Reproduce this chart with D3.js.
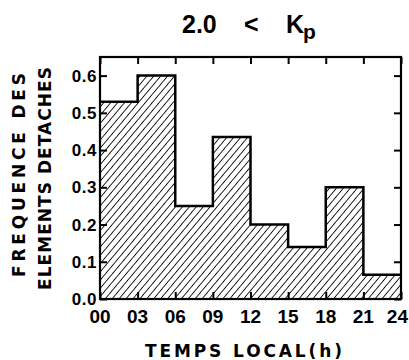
<!DOCTYPE html>
<html>
<head>
<meta charset="utf-8">
<script src="https://cdn.jsdelivr.net/npm/d3@7"></script>
<style>
  body { margin: 0; background: #fff; }
  svg { display: block; }
  text { font-family: "Liberation Sans", Arial, sans-serif; font-weight: bold; fill: #000; }
  text.ttl { font-family: "DejaVu Sans", sans-serif; }
</style>
</head>
<body>
<svg width="409" height="360"></svg>
<script>
// histogram bins (local time, hours) and detached-element frequency
var binStart = [0, 3, 6, 9, 12, 15, 18, 21];
var freq = [0.53, 0.60, 0.25, 0.435, 0.20, 0.14, 0.30, 0.065];
var xTicks = [0, 3, 6, 9, 12, 15, 18, 21, 24];
var xTickLabels = ["00", "03", "06", "09", "12", "15", "18", "21", "24"];
var yTicks = [0, 0.1, 0.2, 0.3, 0.4, 0.5, 0.6];
var yTickLabels = ["0.0", "0.1", "0.2", "0.3", "0.4", "0.5", "0.6"];

var svg = d3.select("svg"),
  margin = { top: 57, right: 8, bottom: 61, left: 100 },
  width = +svg.attr("width") - margin.left - margin.right,
  height = +svg.attr("height") - margin.top - margin.bottom;

var x = d3.scaleLinear().domain([0, 24]).range([0, width]),
  y = d3.scaleLinear().domain([0, 0.65]).range([height, 0]);

// hatch pattern
var pat = svg.append("defs").append("pattern")
  .attr("id", "hatch")
  .attr("patternUnits", "userSpaceOnUse")
  .attr("width", 5.3)
  .attr("height", 10)
  .attr("patternTransform", "rotate(40)");
pat.append("line")
  .attr("x1", 0).attr("y1", 0).attr("x2", 0).attr("y2", 10)
  .attr("stroke", "#000").attr("stroke-width", 1.7);

var g = svg.append("g")
  .attr("transform", "translate(" + margin.left + "," + margin.top + ")");

var pts = binStart.map(function(d, i) { return [d, freq[i]]; });
pts.push([24, freq[freq.length - 1]]);

var area = d3.area()
  .curve(d3.curveStepAfter)
  .x(function(d) { return x(d[0]); })
  .y0(y(0))
  .y1(function(d) { return y(d[1]); });

var line = d3.line()
  .curve(d3.curveStepAfter)
  .x(function(d) { return x(d[0]); })
  .y(function(d) { return y(d[1]); });

g.append("path").datum(pts)
  .attr("d", area)
  .attr("fill", "url(#hatch)");

g.append("path").datum(pts)
  .attr("d", line)
  .attr("fill", "none")
  .attr("stroke", "#000")
  .attr("stroke-width", 2.5);

// axes: ticks inside on all four sides
var tk = 7;
g.append("g")
  .attr("transform", "translate(0," + height + ")")
  .call(d3.axisBottom(x).tickValues(xTicks).tickSize(-tk).tickFormat(""))
  .call(function(s) { s.select(".domain").remove(); });
g.append("g")
  .call(d3.axisTop(x).tickValues(xTicks).tickSize(-tk).tickFormat(""))
  .call(function(s) { s.select(".domain").remove(); });
g.append("g")
  .call(d3.axisLeft(y).tickValues(yTicks).tickSize(-tk).tickFormat(""))
  .call(function(s) { s.select(".domain").remove(); });
g.append("g")
  .attr("transform", "translate(" + width + ",0)")
  .call(d3.axisRight(y).tickValues(yTicks).tickSize(-tk).tickFormat(""))
  .call(function(s) { s.select(".domain").remove(); });
g.selectAll(".tick line").attr("stroke", "#000").attr("stroke-width", 2);

// frame
g.append("rect")
  .attr("width", width).attr("height", height)
  .attr("fill", "none").attr("stroke", "#000").attr("stroke-width", 2.2);

// tick labels
g.selectAll(".xlab").data(xTicks).enter().append("text")
  .attr("x", function(d, i) { return i === xTicks.length - 1 ? x(d) + 7 : x(d); })
  .attr("y", height + 24)
  .attr("text-anchor", function(d, i) { return i === xTicks.length - 1 ? "end" : "middle"; })
  .style("font-size", "19px")
  .text(function(d, i) { return xTickLabels[i]; });

g.selectAll(".ylab").data(yTicks).enter().append("text")
  .attr("x", -3)
  .attr("y", function(d) { return y(d) + 6; })
  .attr("text-anchor", "end")
  .style("font-size", "17px")
  .style("letter-spacing", "0.5px")
  .text(function(d, i) { return yTickLabels[i]; });

// title
var title = svg.append("text")
  .attr("y", 33)
  .style("font-size", "25px");
title.append("tspan").attr("x", 182).text("2.0");
title.append("tspan").attr("x", 244).text("<");
title.append("tspan").attr("x", 286).style("font-size", "25px").text("K");
title.append("tspan").attr("x", 303).attr("dy", 6).style("font-size", "21px").text("p");

// axis titles
svg.append("text")
  .attr("class", "ttl")
  .attr("x", 145).attr("y", 357)
  .attr("textLength", 197)
  .attr("lengthAdjust", "spacing")
  .style("font-size", "17px")
  .text("TEMPS LOCAL(h)");

svg.append("text")
  .attr("class", "ttl")
  .attr("transform", "translate(25,277) rotate(-90)")
  .attr("textLength", 204)
  .attr("lengthAdjust", "spacing")
  .style("font-size", "17px")
  .text("FREQUENCE  DES");

svg.append("text")
  .attr("class", "ttl")
  .attr("transform", "translate(51,290) rotate(-90)")
  .attr("textLength", 223)
  .attr("lengthAdjust", "spacing")
  .style("font-size", "17px")
  .text("ELEMENTS DETACHES");
</script>
</body>
</html>
